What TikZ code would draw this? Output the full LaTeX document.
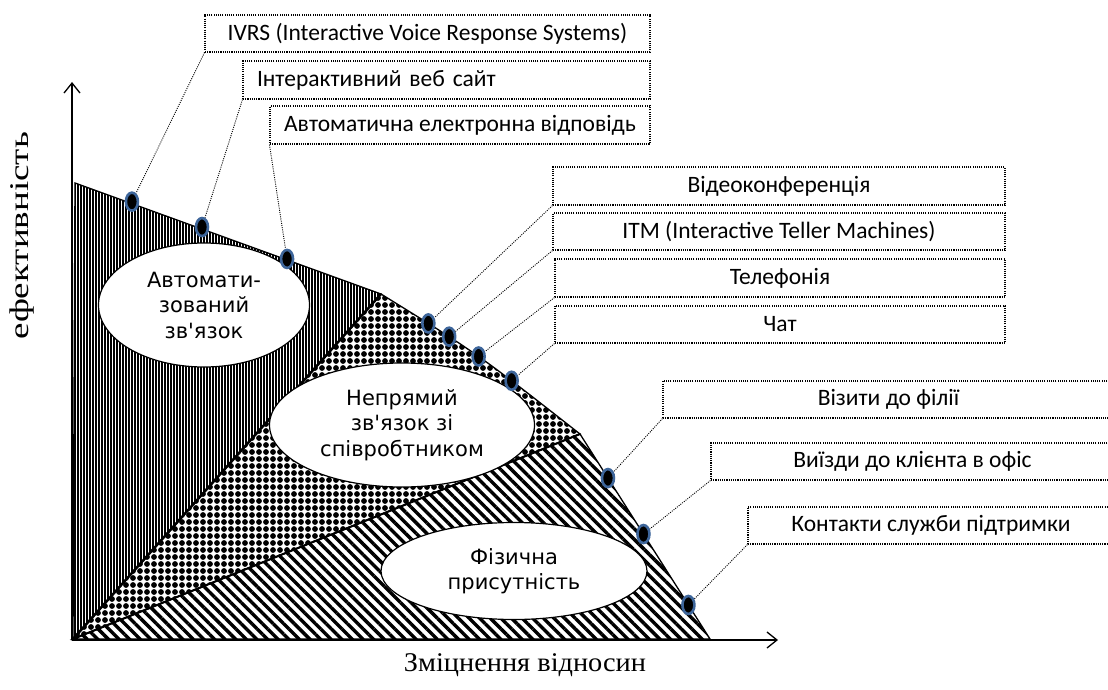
\documentclass[tikz,border=0pt]{standalone}
\usepackage{fontspec}
\setmainfont{Carlito}
\newfontfamily\axisfont{Liberation Serif}
\newfontfamily\zonefont{DejaVu Sans}
\usetikzlibrary{shapes.geometric,patterns.meta,arrows.meta}

\definecolor{markblue}{RGB}{62,102,155}

\tikzset{
  infobox/.style={draw, line width=1.1pt, dash pattern=on 1.1pt off 1.1pt,
    minimum height=37pt, inner sep=0pt, font=\fontsize{23.5}{27}\selectfont},
  leader/.style={line width=0.9pt, dash pattern=on 1pt off 1.2pt},
  dot/.style={ellipse, draw=markblue, fill=black, line width=2.6pt,
    minimum width=12pt, minimum height=18pt, inner sep=0pt},
  zone/.style={ellipse, draw, fill=white, line width=1.2pt, align=center,
    inner sep=0pt, font=\zonefont\fontsize{21}{25.5}\selectfont},
  axislabel/.style={font=\axisfont\fontsize{27}{30}\selectfont},
}

\begin{document}
\begin{tikzpicture}[x=1pt,y=-1pt]
\useasboundingbox (0,0) rectangle (1108,690);

% corners of the curve
\coordinate (o) at (73,639);
\coordinate (top) at (75,183);
\coordinate (peak) at (381,294);
\coordinate (tip) at (580,434);
\coordinate (foot) at (710,639);

% three zones
\draw[line width=1.3pt, pattern={Lines[angle=90,distance=3pt,line width=1.1pt]}]
  (top) -- (peak) -- (o) -- cycle;
\draw[line width=1.3pt, pattern={Dots[distance=7pt,radius=2.9pt]}]
  (o) -- (peak) .. controls (478,354) .. (tip) -- cycle;
\draw[line width=1.3pt, pattern={Lines[angle=-45,distance=7.5pt,line width=3.4pt]}]
  (o) -- (tip) -- (foot) -- cycle;
\draw[line width=2.5pt] (o) -- (peak);
\draw[line width=2pt] (o) -- (tip);

% axes
\coordinate (ax) at (72,640);
\coordinate (yend) at (72,82);
\coordinate (xend) at (778,640);
\draw[line width=1.3pt, -{Straight Barb[length=10pt,width=16pt]}] (ax) -- (yend);
\draw[line width=1.3pt, -{Straight Barb[length=10pt,width=16pt]}] (ax) -- (xend);
\node[axislabel, rotate=90, xscale=1.37] (ylab) at (22,236) {ефективність};
\node[axislabel, xscale=1.05] (xlab) at (525,665) {Зміцнення відносин};

% ellipses
\node[zone, minimum width=211pt, minimum height=124pt] (auto) at (204,305)
  {Автомати-\\зований\\зв\textquotesingle язок};
\node[zone, minimum width=265pt, minimum height=124pt] (indirect) at (402,425)
  {Непрямий\\зв\textquotesingle язок зі\\співробтником};
\node[zone, minimum width=266pt, minimum height=97pt] (phys) at (514,571)
  {Фізична\\присутність};

% markers on the edge
\path (top) -- (peak)
  node[dot, pos=0.186, yshift=2pt] (m1) {}
  node[dot, pos=0.415, yshift=2pt] (m2) {}
  node[dot, pos=0.693, yshift=1pt] (m3) {};
\path (peak) .. controls (478,354) .. (tip)
  node[dot, pos=0.196] (m4) {}
  node[dot, pos=0.31] (m5) {}
  node[dot, pos=0.5] (m6) {}
  node[dot, pos=0.707] (m7) {};
\path (tip) -- (foot)
  node[dot, pos=0.215] (m8) {}
  node[dot, pos=0.488] (m9) {}
  node[dot, pos=0.834] (m10) {};

% label boxes
\node[infobox, minimum width=445pt] (ivrs) at (427.5,33.5) {IVRS (Interactive Voice Response Systems)};
\node[infobox, minimum height=38pt, text width=379pt, inner xsep=14pt, align=left] (web) at (446.5,80) {Інтерактивний веб сайт};
\node[infobox, minimum width=380pt, minimum height=38pt] (mail) at (460,125) {Автоматична електронна відповідь};
\node[infobox, minimum width=452pt, minimum height=38pt] (video) at (779,186) {Відеоконференція};
\node[infobox, minimum width=452pt] (itm) at (779,231.5) {ITM (Interactive Teller Machines)};
\node[infobox, minimum width=450pt, minimum height=38pt] (phone) at (780,278) {Телефонія};
\node[infobox, minimum width=450pt] (chat) at (780,324.5) {Чат};
\node[infobox, minimum width=451pt] (branch) at (888.5,399.5) {Візити до філії};
\node[infobox, minimum width=403pt] (visit) at (912.5,461.5) {Виїзди до клієнта в офіс};
\node[infobox, minimum width=366pt] (support) at (931,525.5) {Контакти служби підтримки};

% leaders
\draw[leader] (ivrs.south west) -- (m1);
\draw[leader] (web.south west) -- (m2);
\draw[leader] (mail.south west) -- (m3);
\draw[leader] (video.south west) -- (m4);
\draw[leader] (itm.south west) -- (m5);
\draw[leader] (phone.south west) -- (m6);
\draw[leader] (chat.south west) -- (m7);
\draw[leader] (branch.south west) -- (m8);
\draw[leader] (visit.south west) -- (m9);
\draw[leader] (support.south west) -- (m10);
\end{tikzpicture}
\end{document}
